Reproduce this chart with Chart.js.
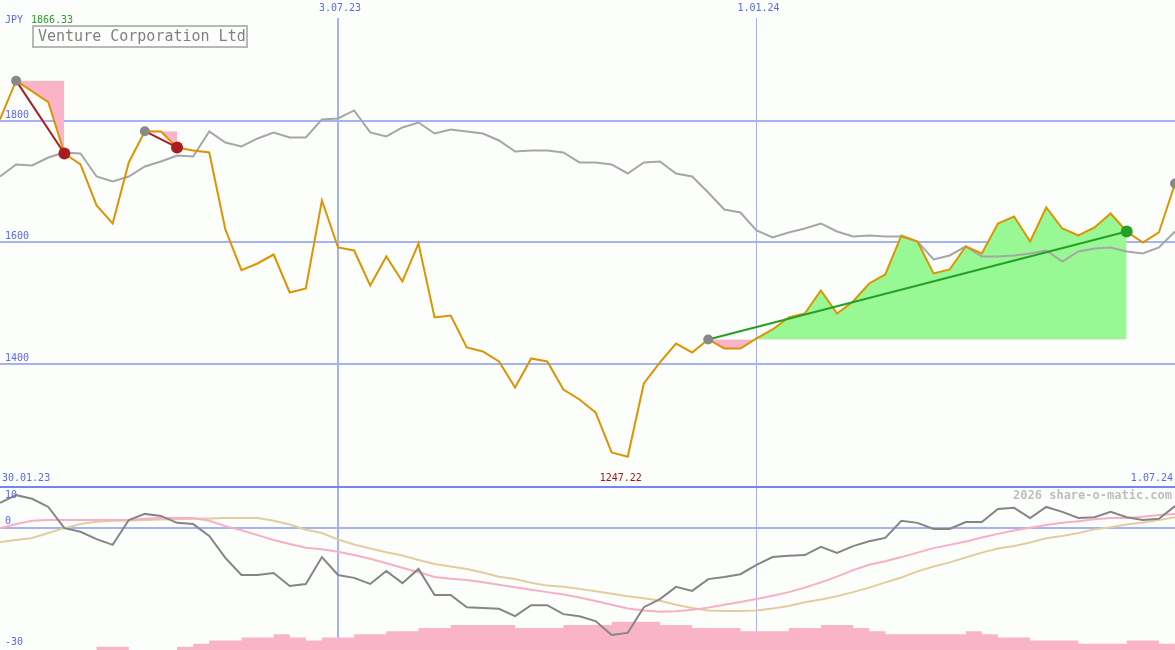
<!DOCTYPE html>
<html>
<head>
<meta charset="utf-8">
<title>Venture Corporation Ltd</title>
<script src="https://cdn.jsdelivr.net/npm/chart.js@4.4.1/dist/chart.umd.min.js"></script>
<style>
  html, body { margin: 0; padding: 0; background: #fcfefc; }
  #chart { display: block; }
</style>
</head>
<body>
<canvas id="chart" width="1175" height="650"></canvas>
<script>
// weekly data, Venture Corporation Ltd (JPY)
const weeks = ['6.02.23','13.02.23','20.02.23','27.02.23','6.03.23','13.03.23','20.03.23','27.03.23','3.04.23','10.04.23',
  '17.04.23','24.04.23','1.05.23','8.05.23','15.05.23','22.05.23','29.05.23','5.06.23','12.06.23','19.06.23',
  '26.06.23','3.07.23','10.07.23','17.07.23','24.07.23','31.07.23','7.08.23','14.08.23','21.08.23','28.08.23',
  '4.09.23','11.09.23','18.09.23','25.09.23','2.10.23','9.10.23','16.10.23','23.10.23','30.10.23','6.11.23',
  '13.11.23','20.11.23','27.11.23','4.12.23','11.12.23','18.12.23','25.12.23','1.01.24','8.01.24','15.01.24',
  '22.01.24','29.01.24','5.02.24','12.02.24','19.02.24','26.02.24','4.03.24','11.03.24','18.03.24','25.03.24',
  '1.04.24','8.04.24','15.04.24','22.04.24','29.04.24','6.05.24','13.05.24','20.05.24','27.05.24','3.06.24',
  '10.06.24','17.06.24','24.06.24','1.07.24'];

const close = [1802.5, 1866.33, 1848.6, 1830.9, 1746.5, 1728.4, 1660.9, 1631.3, 1731.7, 1783.2,
  1782.7, 1756.4, 1751.4, 1748.1, 1621.4, 1554.4, 1565.4, 1580.2, 1517.7, 1524.3,
  1669.1, 1591.8, 1586.8, 1529.2, 1576.9, 1535.8, 1598.4, 1476.5, 1479.8, 1427.2,
  1420.6, 1404.1, 1361.3, 1409.1, 1404.1, 1358.0, 1341.6, 1320.2, 1254.3, 1247.22,
  1367.9, 1402.5, 1433.7, 1418.9, 1440.3, 1425.5, 1425.5, 1442.0, 1456.8, 1476.5,
  1483.1, 1521.0, 1483.1, 1502.9, 1532.5, 1547.3, 1611.5, 1601.6, 1549.0, 1555.6,
  1593.4, 1581.9, 1631.3, 1642.8, 1601.6, 1657.6, 1623.0, 1611.5, 1624.7, 1647.7,
  1618.1, 1600.0, 1616.5, 1697.1];

// grey comparison line
const compare = [1708.6, 1728.4, 1726.7, 1739.9, 1748.1, 1746.5, 1708.6, 1700.4, 1708.6, 1725.1,
  1733.3, 1743.2, 1741.6, 1782.7, 1764.6, 1758.0, 1771.2, 1781.1, 1772.8, 1772.8,
  1802.5, 1804.1, 1817.3, 1781.1, 1774.5, 1789.3, 1797.5, 1779.4, 1786.0, 1782.7,
  1779.4, 1767.9, 1749.8, 1751.4, 1751.4, 1748.1, 1731.7, 1731.7, 1728.4, 1713.6,
  1731.7, 1733.3, 1713.6, 1708.6, 1682.3, 1654.3, 1649.4, 1619.8, 1608.2, 1616.5,
  1623.0, 1631.3, 1618.1, 1609.9, 1611.5, 1609.9, 1609.9, 1601.6, 1572.0, 1578.6,
  1593.4, 1576.9, 1576.9, 1578.6, 1581.9, 1586.8, 1568.7, 1585.2, 1590.1, 1591.8,
  1585.2, 1581.9, 1591.8, 1618.1];

// lower panel
const momentum = [6.1, 8.0, 7.1, 5.1, -0.1, -1.0, -2.8, -4.2, 1.9, 3.4,
  2.9, 1.2, 0.9, -2.0, -7.4, -11.6, -11.6, -11.1, -14.3, -13.8,
  -7.2, -11.6, -12.3, -13.8, -10.6, -13.6, -10.1, -16.5, -16.5, -19.5,
  -19.7, -19.9, -21.7, -19.0, -19.0, -21.2, -21.7, -22.9, -26.3, -25.8,
  -19.5, -17.5, -14.5, -15.5, -12.6, -12.1, -11.4, -9.1, -7.2, -6.9,
  -6.7, -4.7, -6.2, -4.5, -3.3, -2.5, 1.7, 1.2, -0.3, -0.3,
  1.4, 1.4, 4.6, 4.9, 2.4, 5.1, 3.9, 2.4, 2.6, 3.9,
  2.6, 1.9, 2.2, 5.3];

const signal = [-0.1, 0.9, 1.7, 1.9, 1.9, 1.9, 1.9, 1.9, 1.9, 2.2,
  2.4, 2.4, 2.4, 1.7, 0.4, -0.6, -1.8, -3.0, -4.0, -4.9,
  -5.3, -5.9, -6.7, -7.6, -8.7, -9.8, -10.9, -12.1, -12.5, -12.8,
  -13.4, -14.0, -14.6, -15.2, -15.8, -16.4, -17.1, -18.0, -18.9, -19.8,
  -20.3, -20.6, -20.5, -20.1, -19.6, -18.9, -18.2, -17.5, -16.7, -15.8,
  -14.7, -13.4, -12.0, -10.4, -9.1, -8.2, -7.2, -6.1, -5.0, -4.2,
  -3.4, -2.4, -1.5, -0.7, 0.0, 0.7, 1.2, 1.6, 2.1, 2.4,
  2.4, 2.7, 3.1, 3.4];

const slowSignal = [-3.5, -3.0, -2.5, -1.3, -0.1, 0.9, 1.5, 1.7, 1.8, 1.9,
  2.0, 2.1, 2.2, 2.3, 2.4, 2.4, 2.4, 1.7, 0.8, -0.5,
  -1.3, -2.9, -4.1, -5.1, -6.0, -6.8, -7.9, -8.9, -9.5, -10.1,
  -11.0, -12.0, -12.6, -13.5, -14.2, -14.5, -15.0, -15.6, -16.2, -16.8,
  -17.3, -17.9, -18.9, -19.7, -20.3, -20.4, -20.4, -20.3, -19.8, -19.2,
  -18.3, -17.6, -16.8, -15.8, -14.7, -13.4, -12.2, -10.7, -9.5, -8.5,
  -7.3, -6.1, -5.1, -4.5, -3.6, -2.6, -2.0, -1.3, -0.4, 0.1,
  0.8, 1.3, 1.9, 2.6];

// relative volume (levels)
const volume = [0, 0, 0, 0, 0, 0, 1, 1, 0, 0,
  0, 1, 2, 3, 3, 4, 4, 5, 4, 3,
  4, 4, 5, 5, 6, 6, 7, 7, 8, 8,
  8, 8, 7, 7, 7, 8, 8, 8, 9, 9,
  9, 8, 8, 7, 7, 7, 6, 6, 6, 7,
  7, 8, 8, 7, 6, 5, 5, 5, 5, 5,
  6, 5, 4, 4, 3, 3, 3, 2, 2, 2,
  3, 3, 2, 2];

const mainTicks = [1400, 1600, 1800];
const lowTicks = [10, 0, -30];
const dateLines = ['3.07.23', '1.01.24'];
const rangeStart = '30.01.23';
const drawdowns = [[1, 4], [9, 11]];   // peak -> trough
const trend = [44, 70];

// colours
const BG = '#fcfefc';
const BLUE = '#5a68f0';
const GRID = '#a6b2f2';
const SEP = '#7484f2';
const PINK = '#f9b4c9';
const GREEN_FILL = '#98f894';

const LOW_MIN = -30;
const VOL_STEP = 0.77; // lower panel units per volume level

const inRange = (a, b) => close.map((v, i) => (i >= a && i <= b ? v : null));
const pick = idx => close.map((v, i) => (idx.includes(i) ? v : null));

const datasets = [];

// drawdown / trend areas against the start level
drawdowns.concat([trend]).forEach(([a, b]) => {
  datasets.push({
    data: inRange(a, b), yAxisID: 'yMain', order: 10,
    borderColor: 'transparent', borderWidth: 0, pointRadius: 0,
    fill: { target: { value: close[a] }, above: GREEN_FILL, below: PINK }
  });
});

datasets.push({
  data: volume.map(v => LOW_MIN + v * VOL_STEP), yAxisID: 'yLow', order: 9,
  stepped: 'before', fill: 'start', backgroundColor: PINK,
  borderColor: 'transparent', borderWidth: 0, pointRadius: 0
});

datasets.push({ data: compare, yAxisID: 'yMain', order: 8, borderColor: '#a6a6a6', borderWidth: 2, pointRadius: 0 });
datasets.push({ data: slowSignal, yAxisID: 'yLow', order: 7, borderColor: '#e3cd9f', borderWidth: 2, pointRadius: 0 });
datasets.push({ data: signal, yAxisID: 'yLow', order: 6, borderColor: '#f7aec6', borderWidth: 2, pointRadius: 0 });
datasets.push({ data: momentum, yAxisID: 'yLow', order: 5, borderColor: '#858585', borderWidth: 2, pointRadius: 0 });
datasets.push({ data: close, yAxisID: 'yMain', order: 4, borderColor: '#de9400', borderWidth: 2, pointRadius: 0 });

// peak -> trough connectors
drawdowns.forEach(([a, b]) => {
  datasets.push({ data: pick([a, b]), yAxisID: 'yMain', order: 3, spanGaps: true,
    borderColor: '#a81e1e', borderWidth: 2, pointRadius: 0 });
});
datasets.push({ data: pick(trend), yAxisID: 'yMain', order: 3, spanGaps: true,
  borderColor: '#24a024', borderWidth: 2, pointRadius: 0 });

// dots
const greyDots = drawdowns.map(d => d[0]).concat([trend[0], close.length - 1]);
datasets.push({ data: pick(greyDots), yAxisID: 'yMain', order: 2, showLine: false,
  pointRadius: 5, pointBackgroundColor: '#888888', pointBorderWidth: 0 });
datasets.push({ data: pick(drawdowns.map(d => d[1])), yAxisID: 'yMain', order: 2, showLine: false,
  pointRadius: 6, pointBackgroundColor: '#a81e1e', pointBorderWidth: 0 });
datasets.push({ data: pick([trend[1]]), yAxisID: 'yMain', order: 2, showLine: false,
  pointRadius: 6, pointBackgroundColor: '#24a024', pointBorderWidth: 0 });

// texts and background
const textPlugin = {
  id: 'texts',
  beforeDraw(chart) {
    const c = chart.ctx;
    c.save();
    c.fillStyle = BG;
    c.fillRect(0, 0, chart.width, chart.height);
    c.restore();
  },
  afterDraw(chart) {
    const c = chart.ctx;
    const xs = chart.scales.x;
    const yLow = chart.scales.yLow;
    const mono = '"DejaVu Sans Mono", monospace';
    c.save();
    c.textBaseline = 'middle';
    c.font = '10px ' + mono;

    // date labels on top
    c.fillStyle = BLUE;
    c.textAlign = 'center';
    dateLines.forEach(d => c.fillText(d, xs.getPixelForValue(weeks.indexOf(d)) + 2, 8));

    // currency + high
    c.textAlign = 'left';
    c.fillText('JPY', 5, 20);
    c.fillStyle = '#28a028';
    c.fillText(Math.max(...close).toFixed(2), 31, 20);

    // range labels above the lower panel
    c.fillStyle = BLUE;
    c.fillText(rangeStart, 2, 478);
    c.textAlign = 'right';
    c.fillText(weeks[weeks.length - 1], 1173, 478);
    const low = Math.min(...close);
    c.textAlign = 'center';
    c.fillStyle = '#a01818';
    c.fillText(low.toFixed(2), xs.getPixelForValue(close.indexOf(low)) - 7, 478);

    // lower panel scale
    c.fillStyle = BLUE;
    c.textAlign = 'left';
    lowTicks.forEach(v => {
      const off = v === 10 ? 8 : (v === LOW_MIN ? -8 : -6);
      c.fillText(String(v), 5, yLow.getPixelForValue(v) + off);
    });

    // watermark
    c.font = 'bold 12px ' + mono;
    c.fillStyle = '#bdbdbd';
    c.textAlign = 'right';
    c.fillText('2026 share-o-matic.com', 1172, 496);

    // title box
    c.fillStyle = BG;
    c.fillRect(32, 25, 216, 23);
    c.strokeStyle = '#b8b8b8';
    c.lineWidth = 2;
    c.strokeRect(33, 26, 214, 21);
    c.font = '15px ' + mono;
    c.fillStyle = '#808080';
    c.textAlign = 'left';
    c.fillText('Venture Corporation Ltd', 38, 37);
    c.restore();
  }
};

const xLine = ctx => dateLines.indexOf(weeks[ctx.tick.value]);

// y axes take no room and add no padding
const flat = s => { s.width = 0; s.paddingTop = 0; s.paddingBottom = 0; };

new Chart(document.getElementById('chart'), {
  type: 'line',
  data: { labels: weeks, datasets: datasets },
  options: {
    responsive: false,
    animation: false,
    events: [],
    layout: { autoPadding: false, padding: { top: 18, left: 0, right: 0, bottom: 0 } },
    elements: { line: { tension: 0 } },
    plugins: { legend: { display: false }, tooltip: { enabled: false } },
    scales: {
      x: {
        type: 'category',
        offset: false,
        ticks: { display: false },
        border: { display: false },
        grid: {
          drawTicks: false,
          color: ctx => (xLine(ctx) >= 0 ? GRID : 'transparent'),
          lineWidth: ctx => (xLine(ctx) === 0 ? 2 : 1)
        }
      },
      yLow: {
        position: 'left',
        stack: 'panels',
        stackWeight: 163,
        min: LOW_MIN,
        max: 10,
        afterBuildTicks: s => { s.ticks = lowTicks.map(v => ({ value: v })); },
        afterFit: flat,
        ticks: { display: false },
        border: { display: false },
        grid: {
          drawTicks: false,
          lineWidth: 2,
          color: ctx => (ctx.tick.value === 10 ? SEP : (ctx.tick.value === 0 ? GRID : 'transparent'))
        }
      },
      yMain: {
        position: 'left',
        stack: 'panels',
        stackWeight: 469,
        min: 1197.5,
        max: 1969.5,
        afterBuildTicks: s => { s.ticks = mainTicks.map(v => ({ value: v })); },
        afterFit: flat,
        ticks: {
          mirror: true,
          padding: 5,
          labelOffset: -6,
          color: BLUE,
          font: { family: 'DejaVu Sans Mono', size: 10 },
          callback: v => String(v)
        },
        border: { display: false },
        grid: { drawTicks: false, lineWidth: 2, color: GRID }
      }
    }
  },
  plugins: [textPlugin]
});
</script>
</body>
</html>
